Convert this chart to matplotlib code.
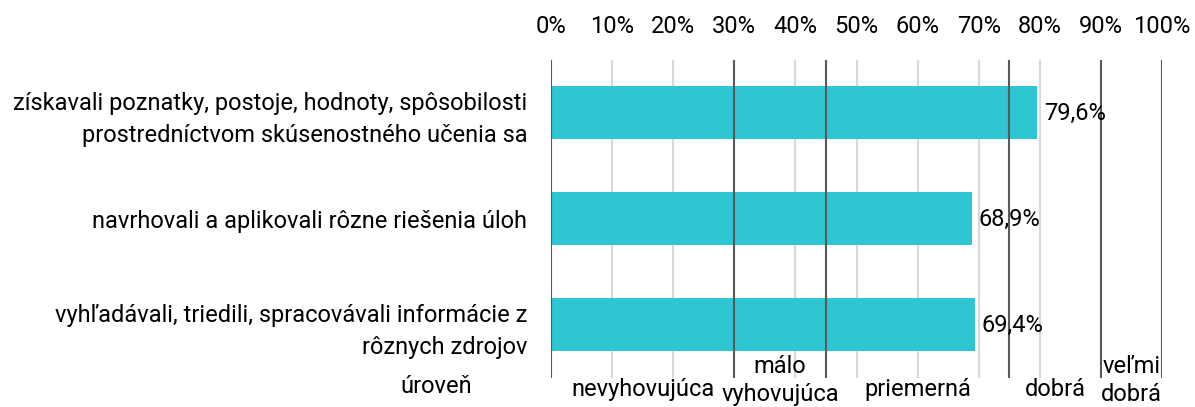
import numpy as np
import matplotlib.pyplot as plt

plt.rcParams['font.family'] = ['Roboto', 'DejaVu Sans']

## Data
categories = [
    'získavali poznatky, postoje, hodnoty, spôsobilosti\nprostredníctvom skúsenostného učenia sa',
    'navrhovali a aplikovali rôzne riešenia úloh',
    'vyhľadávali, triedili, spracovávali informácie z\nrôznych zdrojov',
]
values = [79.6, 68.9, 69.4]
value_labels = ['79,6%', '68,9%', '69,4%']

## Level bands (boundaries in %) and their names
band_edges = [0, 30, 45, 75, 90, 100]
band_names = ['nevyhovujúca', 'málo\nvyhovujúca', 'priemerná', 'dobrá', 'veľmi\ndobrá']
ticks = list(range(0, 101, 10))
tick_labels = ['{}%'.format(t) for t in ticks]

fs = 17

fig = plt.figure(figsize=(11.95, 4.07), dpi=100)
ax = fig.add_axes([0.4611, 0.0713, 0.5113, 0.7813])

y = np.arange(len(categories))
ax.barh(y, values, height=0.5, color='#2dc6d2', zorder=3)

# light gridlines every 10 %
for t in ticks:
    if t not in band_edges:
        ax.axvline(t, color='#d9d9d9', lw=1.5, zorder=1)
# dark lines at the level boundaries
for e in band_edges:
    ax.axvline(e, color='#5a5a5a', lw=1.5, zorder=4)

for yi, v, lab in zip(y, values, value_labels):
    ax.annotate(lab, xy=(v, yi), xytext=(5, 0), textcoords='offset points',
                va='center', ha='left', fontsize=fs, zorder=5)

ax.set_xlim(0, 100)
ax.set_ylim(len(categories) - 0.5, -0.5)
ax.set_yticks(y)
ax.set_yticklabels(categories, fontsize=fs, linespacing=1.5)
ax.set_xticks(ticks)
ax.set_xticklabels(tick_labels, fontsize=fs)
ax.xaxis.tick_top()
ax.tick_params(axis='x', length=0, pad=16)
ax.tick_params(axis='y', length=0, pad=17)
for s in ax.spines.values():
    s.set_visible(False)

# level names under the chart
for lo, hi, name in zip(band_edges[:-1], band_edges[1:], band_names):
    dy = -2 if '\n' in name else -8
    ax.annotate(name, xy=((lo + hi) / 2, 0), xycoords=('data', 'axes fraction'),
                xytext=(0, dy), textcoords='offset points',
                ha='center', va='center', fontsize=fs, linespacing=1.3,
                annotation_clip=False)
ax.annotate('úroveň', xy=(0, 0), xycoords='axes fraction',
            xytext=(-83, -6), textcoords='offset points',
            ha='center', va='center', fontsize=fs)

fig.savefig('out.png', dpi=100)
